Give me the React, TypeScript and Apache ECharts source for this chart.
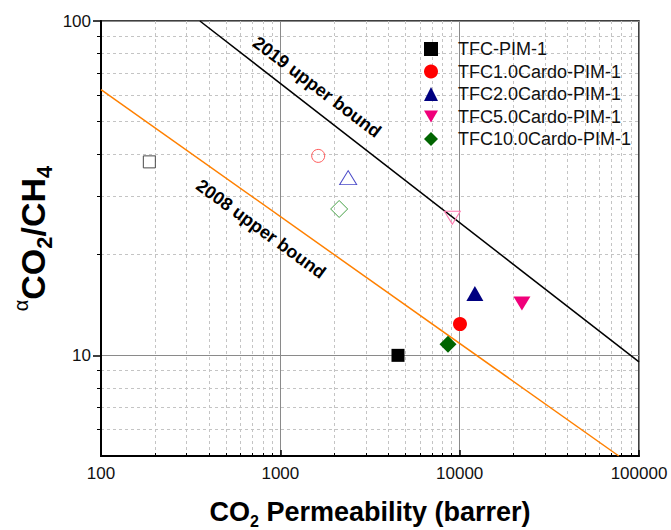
import React, { useEffect, useRef } from 'react';
import * as echarts from 'echarts';

const seriesNames = ['TFC-PIM-1', 'TFC1.0Cardo-PIM-1', 'TFC2.0Cardo-PIM-1', 'TFC5.0Cardo-PIM-1', 'TFC10.0Cardo-PIM-1'];
const co2Permeability = [4530, 10040, 12160, 22240, 8610];
const selectivity = [10.0, 12.4, 15.3, 14.3, 10.8];
const openCo2Permeability = [186, 1626, 2389, 9101, 2128];
const openSelectivity = [37.9, 39.5, 34.0, 25.8, 27.4];
const bound2019Permeability = [356, 100000];
const bound2019Selectivity = [100, 9.56];
const bound2008Permeability = [100, 77150];
const bound2008Selectivity = [62.3, 5];
const xMajorTicks = [100, 1000, 10000, 100000];
const xMinorTicks = [200, 300, 400, 500, 600, 700, 800, 900, 2000, 3000, 4000, 5000, 6000, 7000, 8000, 9000, 20000, 30000, 40000, 50000, 60000, 70000, 80000, 90000];
const yMajorTicks = [10, 100];
const yMinorTicks = [6, 7, 8, 9, 20, 30, 40, 50, 60, 70, 80, 90];

const INV_TRI = 'path://M0,0L20,0L10,17.32Z';
const symbols = ['rect', 'circle', 'triangle', INV_TRI, 'diamond'];
const filledColors = ['#000000', '#ff0000', '#000080', '#f0007a', '#006400'];
const openColors = ['#4a4a4a', '#ff5a5a', '#4a4ac8', '#ff78ae', '#45a045'];
const filledSizes: any[] = [13, 14, [17, 15], [17, 14], 17];
const openSizes: any[] = [12, 13, [17, 14], [16, 13], 17];

const FONT = '"Liberation Sans", Arial, sans-serif';

export default function App() {
  const ref = useRef<HTMLDivElement>(null);
  useEffect(() => {
    document.body.style.margin = '0';
    const chart = echarts.init(ref.current!, null, { renderer: 'svg' });
    const fmt = (v: number) => String(Math.round(v));
    const filledSeries = seriesNames.map((name, i) => ({
      type: 'scatter',
      name,
      xAxisIndex: 0,
      yAxisIndex: 0,
      data: [[co2Permeability[i], selectivity[i]]],
      symbol: symbols[i],
      symbolSize: filledSizes[i],
      itemStyle: { color: filledColors[i], opacity: 1 },
      z: 5,
    }));
    const openSeries = seriesNames.map((name, i) => ({
      type: 'scatter',
      name: name + ' (open)',
      xAxisIndex: 0,
      yAxisIndex: 0,
      data: [[openCo2Permeability[i], openSelectivity[i]]],
      symbol: symbols[i],
      symbolSize: openSizes[i],
      itemStyle: { color: 'rgba(255,255,255,0)', borderColor: openColors[i], borderWidth: 1, opacity: 1 },
      z: 5,
    }));
    const option: any = {
      animation: false,
      grid: {
        left: 101, right: 32, top: 21, bottom: 74, show: true, borderColor: '#000', borderWidth: 1.5,
        backgroundColor: 'transparent', containLabel: false, outerBoundsMode: 'none',
      },
      xAxis: [
        {
          type: 'log', logBase: 10, min: 100, max: 100000, position: 'bottom',
          name: '{b|CO}{s|2}{b| Permeability (barrer)}',
          nameLocation: 'middle', nameGap: 42, nameMoveOverlap: false,
          nameTextStyle: {
            rich: {
              b: { fontSize: 27, fontWeight: 'bold', fontFamily: FONT, color: '#000', lineHeight: 27, verticalAlign: 'top' },
              s: { fontSize: 16, fontWeight: 'bold', fontFamily: FONT, color: '#000', lineHeight: 31, verticalAlign: 'bottom' },
            },
          },
          axisLine: { onZero: false, lineStyle: { color: '#000', width: 2 } },
          axisTick: { inside: true, length: 6, customValues: xMajorTicks, lineStyle: { color: '#000', width: 1.5 } },
          axisLabel: { customValues: xMajorTicks, fontSize: 17, color: '#111', fontFamily: FONT, margin: 9, formatter: fmt },
          splitLine: { show: true, lineStyle: { color: '#8a8a8a', width: 1 } },
        },
        {
          type: 'log', logBase: 10, min: 100, max: 100000, position: 'bottom',
          axisLine: { show: false, onZero: false },
          axisTick: { inside: true, length: 3, customValues: xMinorTicks, lineStyle: { color: '#000', width: 1 } },
          axisLabel: { show: false },
          splitLine: { show: true, lineStyle: { color: '#c4c4c4', width: 1, type: [3, 3] } },
        },
      ],
      yAxis: [
        {
          type: 'log', logBase: 10, min: 5, max: 100, position: 'left',
          name: '{a|α}{b|CO}{s|2}{b|/CH}{s|4}',
          nameLocation: 'middle', nameRotate: 90, nameGap: 46, nameMoveOverlap: false,
          nameTextStyle: {
            rich: {
              a: { fontSize: 20, fontFamily: FONT, color: '#000', lineHeight: 20, verticalAlign: 'top' },
              b: { fontSize: 34, fontWeight: 'bold', fontFamily: FONT, color: '#000', lineHeight: 44, verticalAlign: 'middle' },
              s: { fontSize: 22, fontWeight: 'bold', fontFamily: FONT, color: '#000', lineHeight: 44, verticalAlign: 'bottom' },
            },
          },
          axisLine: { onZero: false, lineStyle: { color: '#000', width: 2 } },
          axisTick: { inside: false, length: 8, customValues: yMajorTicks, lineStyle: { color: '#000', width: 1.5 } },
          axisLabel: { customValues: yMajorTicks, fontSize: 17, color: '#111', fontFamily: FONT, margin: 10, formatter: fmt },
          splitLine: { show: true, lineStyle: { color: '#8a8a8a', width: 1 } },
        },
        {
          type: 'log', logBase: 10, min: 5, max: 100, position: 'left',
          axisLine: { show: false, onZero: false },
          axisTick: { inside: false, length: 4, customValues: yMinorTicks, lineStyle: { color: '#000', width: 1 } },
          axisLabel: { show: false },
          splitLine: { show: true, lineStyle: { color: '#c4c4c4', width: 1, type: [3, 3] } },
        },
      ],
      legend: {
        data: seriesNames.map((name, i) => ({ name, icon: symbols[i] })),
        orient: 'vertical',
        left: 419,
        top: 35,
        itemWidth: 14,
        itemHeight: 14,
        itemGap: 4.5,
        selectedMode: false,
        textStyle: { fontSize: 18, lineHeight: 18, color: '#111', fontFamily: FONT, padding: [0, 0, 0, 15] },
      },
      graphic: [
        {
          type: 'text', x: 317, y: 87, rotation: (-37 * Math.PI) / 180, z: 10,
          style: { text: '2019 upper bound', font: 'bold 18px "Liberation Sans", Arial, sans-serif', fill: '#000', align: 'center', verticalAlign: 'middle' },
        },
        {
          type: 'text', x: 261, y: 229, rotation: (-36 * Math.PI) / 180, z: 10,
          style: { text: '2008 upper bound', font: 'bold 18px "Liberation Sans", Arial, sans-serif', fill: '#000', align: 'center', verticalAlign: 'middle' },
        },
      ],
      series: [
        {
          type: 'line', name: '2019 upper bound', xAxisIndex: 0, yAxisIndex: 0, symbol: 'none', silent: true,
          data: bound2019Permeability.map((x, i) => [x, bound2019Selectivity[i]]),
          lineStyle: { color: '#000', width: 1.5 }, z: 3,
        },
        {
          type: 'line', name: '2008 upper bound', xAxisIndex: 0, yAxisIndex: 0, symbol: 'none', silent: true,
          data: bound2008Permeability.map((x, i) => [x, bound2008Selectivity[i]]),
          lineStyle: { color: '#ff8000', width: 1.5 }, z: 3,
        },
        ...openSeries,
        ...filledSeries,
      ],
    };
    chart.setOption(option);
    return () => chart.dispose();
  }, []);
  return <div ref={ref} style={{ width: 671, height: 530 }} />;
}
